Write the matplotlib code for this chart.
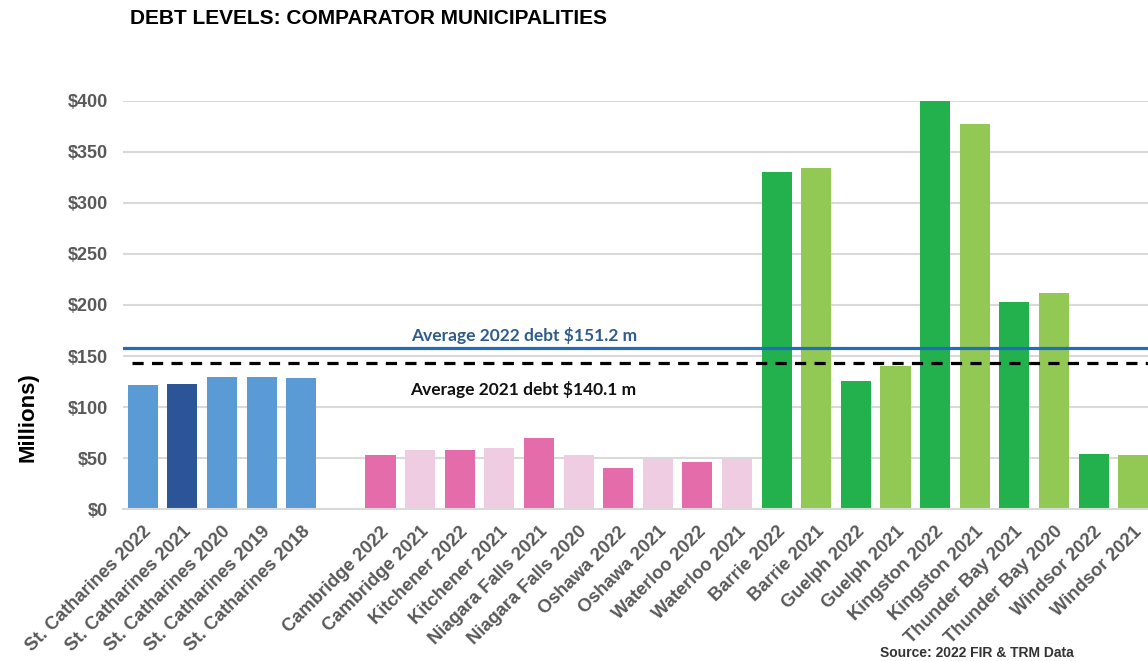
import matplotlib.pyplot as plt
import numpy as np

plt.rcParams['font.family'] = ['Liberation Sans', 'DejaVu Sans']

labels = ["St. Catharines 2022", "St. Catharines 2021", "St. Catharines 2020",
          "St. Catharines 2019", "St. Catharines 2018", "",
          "Cambridge 2022", "Cambridge 2021", "Kitchener 2022", "Kitchener 2021",
          "Niagara Falls 2021", "Niagara Falls 2020", "Oshawa 2022", "Oshawa 2021",
          "Waterloo 2022", "Waterloo 2021",
          "Barrie 2022", "Barrie 2021", "Guelph 2022", "Guelph 2021",
          "Kingston 2022", "Kingston 2021", "Thunder Bay 2021", "Thunder Bay 2020",
          "Windsor 2022", "Windsor 2021"]

debt = [121.5, 122.5, 130, 130, 128.5, 0,
        53, 58, 58, 60, 70, 53, 40, 49, 46, 49,
        330, 334.5, 125.5, 140, 400, 377, 202.5, 212, 54.5, 53]

colors = ["#5B9BD5", "#2B5597", "#5B9BD5", "#5B9BD5", "#5B9BD5", "none"] \
    + ["#E46CAB", "#F0CCE2"] * 5 \
    + ["#22B14C", "#92C955"] * 5

avg_2022 = 157.5
avg_2021 = 143.5
avg_2022_text = "Average 2022 debt $151.2 m"
avg_2021_text = "Average 2021 debt $140.1 m"

fig = plt.figure(figsize=(11.48, 6.61), dpi=100)
ax = fig.add_axes([123 / 1148, (661 - 509.3) / 661, 1030 / 1148, 408.6 / 661])

x = np.arange(len(labels))
ax.bar(x, debt, width=0.76, color=colors, zorder=2)

ax.axhline(avg_2022, color="#1F6CC0", lw=2.3, zorder=3)
ax.axhline(avg_2021, color="black", lw=2.3, ls=(0, (3.5, 2.6)), xmin=0.009, zorder=3)
ax.text(9.63, 170.5, avg_2022_text, color="#2E5C8C", fontsize=12.5, fontweight="bold",
        family=["Lato", "DejaVu Sans"], ha="center", va="center")
ax.text(9.6, 117, avg_2021_text, color="#111111", fontsize=12.5, fontweight="bold",
        family=["Lato", "DejaVu Sans"], ha="center", va="center")

ax.set_xlim(-0.5, len(labels) - 0.5)
ax.set_ylim(0, 400)
ax.set_yticks(np.arange(0, 401, 50))
ax.set_yticklabels([f"${v}" for v in range(0, 401, 50)])
ax.set_xticks(x)
ax.set_xticklabels(labels, rotation=45, ha="right", va="top", rotation_mode="anchor")

ax.grid(axis="y", color="#D9D9D9", lw=1.5, zorder=0)
ax.set_axisbelow(True)
for s in ["top", "right", "left"]:
    ax.spines[s].set_visible(False)
ax.spines["bottom"].set_color("#D9D9D9")
ax.spines["bottom"].set_linewidth(1.5)
ax.tick_params(axis="y", length=0, pad=11, labelsize=13, labelcolor="#595959")
ax.tick_params(axis="x", length=0, pad=10, labelsize=13.2, labelcolor="#595959")
for t in ax.get_yticklabels() + ax.get_xticklabels():
    t.set_fontweight("bold")

fig.text(28 / 1148, 1 - 417 / 661, "Millions)", rotation=90, fontsize=16,
         fontweight="bold", ha="center", va="center")
fig.text(130 / 1148, 1 - 18 / 661, "DEBT LEVELS: COMPARATOR MUNICIPALITIES",
         fontsize=15, fontweight="bold", ha="left", va="center")
fig.text(880 / 1148, 1 / 661, "Source: 2022 FIR & TRM Data", fontsize=10,
         fontweight="bold", color="#333333", ha="left", va="bottom")

fig.savefig("out.png", dpi=100)
